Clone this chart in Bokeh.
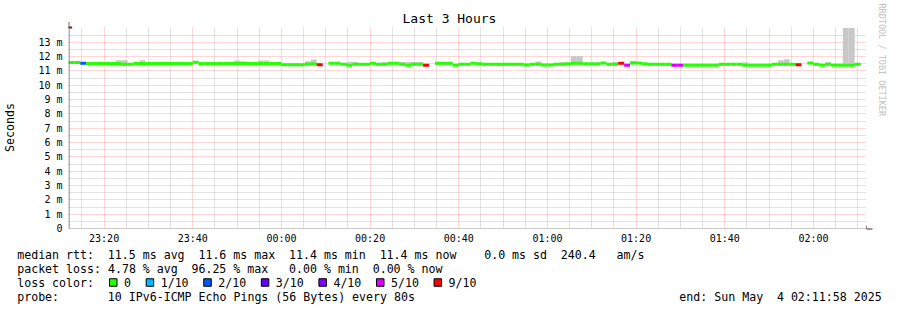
import re
from datetime import datetime, timedelta

from bokeh.plotting import figure
from bokeh.models import (Range1d, FixedTicker, CustomJSTickFormatter, Title,
                          Arrow, NormalHead)
from bokeh.embed import file_html
from bokeh.resources import INLINE
from bokeh.core.properties import value

# ---------------- data ----------------
START = datetime(2025, 5, 3, 23, 11, 58)
END = datetime(2025, 5, 4, 2, 11, 58)
STEP_S = 80  # probe interval (seconds)

# median rtt per 80 s step (ms); None = no data
median_ms = [
    11.58, 11.58, 11.54, 11.52, 11.52, 11.52, 11.52, 11.52, 11.52, 11.46,
    11.46, 11.52, 11.52, 11.52, 11.52, 11.52, 11.52, 11.52, 11.52, 11.52,
    11.52, 11.60, 11.52, 11.52, 11.52, 11.52, 11.52, 11.52, 11.52, 11.52,
    11.52, 11.52, 11.52, 11.52, 11.52, 11.52, 11.43, 11.43, 11.43, 11.43,
    11.48, 11.48, 11.43, None, 11.54, 11.54, 11.47, 11.40, 11.47, 11.47,
    11.47, 11.54, 11.47, 11.47, 11.54, 11.54, 11.47, 11.40, 11.47, 11.47,
    11.40, None, 11.54, 11.54, 11.54, 11.40, 11.47, 11.47, 11.54, 11.50,
    11.46, 11.46, 11.46, 11.46, 11.46, 11.46, 11.46, 11.42, 11.46, 11.46,
    11.42, 11.42, 11.46, 11.46, 11.50, 11.54, 11.54, 11.50, 11.50, 11.50,
    11.56, 11.47, 11.47, 11.54, 11.40, 11.55, 11.55, 11.50, 11.46, 11.46,
    11.46, 11.46, 11.40, 11.40, 11.40, 11.40, 11.40, 11.40, 11.40, 11.40,
    11.46, 11.46, 11.46, 11.46, 11.40, 11.40, 11.40, 11.40, 11.40, 11.46,
    11.46, 11.46, 11.46, 11.43, None, 11.55, 11.47, 11.40, 11.47, 11.40,
    11.40, 11.40, 11.40, 11.46, None,
]

# lost pings (out of 10) per step
loss_tenths = [
    0, 0, 2, 0, 0, 0, 0, 0, 0, 0,
    0, 0, 0, 0, 0, 0, 0, 0, 0, 0,
    0, 0, 0, 0, 0, 0, 0, 0, 0, 0,
    0, 0, 0, 0, 0, 0, 0, 0, 0, 0,
    0, 0, 9, 10, 0, 0, 0, 0, 0, 0,
    0, 0, 0, 0, 0, 0, 0, 0, 0, 0,
    9, 10, 0, 0, 0, 0, 0, 0, 0, 0,
    0, 0, 0, 0, 0, 0, 0, 0, 0, 0,
    0, 0, 0, 0, 0, 0, 0, 0, 0, 0,
    0, 0, 0, 9, 5, 0, 0, 0, 0, 0,
    0, 0, 5, 5, 0, 0, 0, 0, 0, 0,
    0, 0, 0, 0, 0, 0, 0, 0, 0, 0,
    0, 0, 0, 9, 10, 0, 0, 0, 0, 0,
    0, 0, 0, 0, 10,
]

# smoke (spread of the individual pings) top / bottom per step (ms)
smoke_hi_ms = [
    11.64, 11.64, 11.60, 11.58, 11.58, 11.58, 11.58, 11.58, 11.75, 11.75,
    11.52, 11.58, 11.75, 11.58, 11.58, 11.58, 11.58, 11.58, 11.58, 11.58,
    11.58, 11.66, 11.58, 11.58, 11.58, 11.58, 11.58, 11.58, 11.72, 11.68,
    11.58, 11.58, 11.72, 11.72, 11.58, 11.58, 11.50, 11.50, 11.50, 11.50,
    11.68, 11.80, 11.49, None, 11.60, 11.60, 11.53, 11.62, 11.62, 11.53,
    11.53, 11.60, 11.53, 11.60, 11.60, 11.60, 11.62, 11.62, 11.62, 11.62,
    11.46, None, 11.60, 11.60, 11.60, 11.46, 11.53, 11.53, 11.60, 11.58,
    11.52, 11.52, 11.52, 11.52, 11.52, 11.52, 11.52, 11.48, 11.52, 11.66,
    11.48, 11.48, 11.52, 11.60, 11.56, 12.03, 12.03, 11.56, 11.56, 11.56,
    11.62, 11.53, 11.62, 11.60, 11.46, 11.70, 11.61, 11.56, 11.52, 11.52,
    11.52, 11.52, 11.46, 11.46, 11.46, 11.46, 11.46, 11.46, 11.46, 11.46,
    11.52, 11.52, 11.52, 11.52, 11.60, 11.46, 11.46, 11.46, 11.46, 11.52,
    11.75, 11.82, 11.52, 11.49, None, 11.61, 11.53, 11.46, 11.60, 11.46,
    11.46, 14.00, 14.00, 11.52, None,
]
smoke_lo_ms = [
    11.50, 11.50, 11.45, 11.42, 11.42, 11.42, 11.42, 11.36, 11.36, 11.37,
    11.37, 11.42, 11.38, 11.42, 11.42, 11.42, 11.42, 11.42, 11.42, 11.42,
    11.42, 11.50, 11.42, 11.42, 11.42, 11.42, 11.42, 11.42, 11.42, 11.42,
    11.42, 11.42, 11.42, 11.42, 11.42, 11.42, 11.34, 11.34, 11.34, 11.34,
    11.38, 11.38, 11.34, None, 11.44, 11.44, 11.38, 11.32, 11.38, 11.38,
    11.38, 11.44, 11.38, 11.38, 11.44, 11.44, 11.38, 11.32, 11.38, 11.38,
    11.32, None, 11.40, 11.40, 11.40, 11.32, 11.38, 11.38, 11.44, 11.40,
    11.37, 11.37, 11.37, 11.37, 11.37, 11.37, 11.37, 11.33, 11.37, 11.37,
    11.33, 11.33, 11.37, 11.37, 11.40, 11.44, 11.40, 11.40, 11.40, 11.40,
    11.46, 11.38, 11.38, 11.44, 11.32, 11.46, 11.46, 11.40, 11.37, 11.37,
    11.37, 11.37, 11.32, 11.32, 11.32, 11.32, 11.32, 11.32, 11.32, 11.32,
    11.37, 11.37, 11.37, 11.37, 11.32, 11.32, 11.32, 11.32, 11.32, 11.37,
    11.37, 11.37, 11.37, 11.34, None, 11.46, 11.38, 11.32, 11.38, 11.32,
    11.32, 11.32, 11.32, 11.37, None,
]

loss_levels = [0, 1, 2, 3, 4, 5, 9]
loss_colors = ["#26ff00", "#00b8ff", "#0059ff", "#5e00ff", "#7e00ff", "#dd00ff", "#ff0000"]
loss_labels = ["0", "1/10", "2/10", "3/10", "4/10", "5/10", "9/10"]

x_major_ticks = [datetime(2025, 5, 3, 23, 20), datetime(2025, 5, 3, 23, 40),
                 datetime(2025, 5, 4, 0, 0), datetime(2025, 5, 4, 0, 20),
                 datetime(2025, 5, 4, 0, 40), datetime(2025, 5, 4, 1, 0),
                 datetime(2025, 5, 4, 1, 20), datetime(2025, 5, 4, 1, 40),
                 datetime(2025, 5, 4, 2, 0)]
x_minor_step_min = 5
y_major_ticks_ms = [0, 1, 2, 3, 4, 5, 6, 7, 8, 9, 10, 11, 12, 13]
y_minor_ticks_ms = [0.5, 1.5, 2.5, 3.5, 4.5, 5.5, 6.5, 7.5, 8.5, 9.5, 10.5, 11.5, 12.5, 13.5]

title_text = "Last 3 Hours"
y_label_text = "Seconds"
watermark_text = "RRDTOOL / TOBI OETIKER"
legend_line_1 = "median rtt:  11.5 ms avg  11.6 ms max  11.4 ms min  11.4 ms now    0.0 ms sd  240.4   am/s"
legend_line_2 = "packet loss: 4.78 % avg  96.25 % max   0.00 % min  0.00 % now"
legend_line_3 = "loss color:"
legend_line_4 = "probe:       10 IPv6-ICMP Echo Pings (56 Bytes) every 80s"
end_text = "end: Sun May  4 02:11:58 2025"

# ---------------- helpers ----------------
EPOCH = datetime(1970, 1, 1)


def ms(dt):
    return (dt - EPOCH).total_seconds() * 1000.0


MONO = "DejaVu Sans Mono"
FRAME_L, FRAME_R, FRAME_T, FRAME_B = 66, 866, 26, 228
W, H_MAIN, H_LEG = 897, 246, 64

t0 = ms(START)
t_end = ms(END)
n = len(median_ms)
lefts = [t0 + i * STEP_S * 1000.0 for i in range(n)]
rights = [l + STEP_S * 1000.0 for l in lefts]

x_major = [ms(t) for t in x_major_ticks]
x_minor = []
tt = datetime(2025, 5, 3, 23, 15)
while tt < END:
    if ms(tt) not in x_major:
        x_minor.append(ms(tt))
    tt += timedelta(minutes=x_minor_step_min)

y_top = 0.0141

p = figure(width=W, height=H_MAIN, x_axis_type="datetime",
           x_range=Range1d(t0, t_end), y_range=Range1d(0, y_top),
           output_backend="svg", toolbar_location=None,
           min_border_left=FRAME_L, min_border_right=W - FRAME_R,
           min_border_top=FRAME_T, min_border_bottom=H_MAIN - FRAME_B)
p.outline_line_color = None
p.background_fill_color = "white"
p.border_fill_color = "white"

# title
p.title.text = title_text
p.title.align = "left"
p.title.offset = 400 - FRAME_L
p.title.standoff = 1
p.title.text_font = MONO
p.title.text_font_size = "13px"
p.title.text_font_style = "normal"
p.title.text_color = "#000000"

# watermark on the right side
wm = Title(text=watermark_text, align="left", offset=-23, standoff=17,
           vertical_align="top",
           text_font=MONO, text_font_size="8.5px", text_font_style="normal",
           text_color="#c0c0c0")
p.add_layout(wm, "right")

p.xaxis.ticker = FixedTicker(ticks=x_major, minor_ticks=x_minor)
p.xaxis.formatter = CustomJSTickFormatter(code="""
    const d = new Date(tick);
    const h = String(d.getUTCHours()).padStart(2, "0");
    const m = String(d.getUTCMinutes()).padStart(2, "0");
    return h + ":" + m;
""")
p.yaxis.ticker = FixedTicker(ticks=[v / 1000 for v in y_major_ticks_ms],
                             minor_ticks=[v / 1000 for v in y_minor_ticks_ms])
p.yaxis.formatter = CustomJSTickFormatter(code="""
    const v = Math.round(tick * 1000);
    return v == 0 ? "0" : v + " m";
""")
for ax in (p.xaxis, p.yaxis):
    ax.axis_line_color = None
    ax.major_tick_line_color = None
    ax.minor_tick_line_color = None
    ax.major_tick_out = 0
    ax.major_tick_in = 0
    ax.minor_tick_out = 0
    ax.minor_tick_in = 0
    ax.major_label_text_font = MONO
    ax.major_label_text_font_size = "10px"
    ax.major_label_text_color = "#000000"
p.xaxis.major_label_standoff = 4
p.yaxis.major_label_standoff = 6
p.yaxis.axis_label = y_label_text
p.yaxis.axis_label_text_font = MONO
p.yaxis.axis_label_text_font_size = "11.6px"
p.yaxis.axis_label_text_font_style = "normal"
p.yaxis.axis_label_text_color = "#000000"
p.yaxis.axis_label_standoff = 18

for g in (p.xgrid, p.ygrid):
    g.grid_line_color = "#ff6060"
    g.grid_line_alpha = 0.5
    g.grid_line_dash = "1 1"
    g.minor_grid_line_color = "#a0a0a0"
    g.minor_grid_line_alpha = 0.6
    g.minor_grid_line_dash = "1 1"

# smoke
sl, sr, sb, st = [], [], [], []
for i in range(n):
    if smoke_hi_ms[i] is None or smoke_lo_ms[i] is None:
        continue
    sl.append(lefts[i]); sr.append(rights[i])
    sb.append(smoke_lo_ms[i] / 1000); st.append(smoke_hi_ms[i] / 1000)
p.quad(left=sl, right=sr, bottom=sb, top=st, fill_color="#c8c8c8", line_color=None)


def loss_color(v):
    c = loss_colors[0]
    for lv, col in zip(loss_levels, loss_colors):
        if v >= lv:
            c = col
    return c


mx0, mx1, my, mc = [], [], [], []
for i in range(n):
    if median_ms[i] is None:
        continue
    mx0.append(lefts[i]); mx1.append(rights[i])
    my.append(median_ms[i] / 1000); mc.append(loss_color(loss_tenths[i]))
p.segment(x0=mx0, y0=my, x1=mx1, y1=my, line_color=mc, line_width=3, line_cap="butt")

# axes with arrows
px_per_ms_x = (FRAME_R - FRAME_L) / (t_end - t0)
px_per_unit_y = (FRAME_B - FRAME_T) / y_top
ax_x = t0 + 0.5 / px_per_ms_x
ax_y = -0.5 / px_per_unit_y
p.add_layout(Arrow(end=NormalHead(size=6, fill_color="#7f1f1f", line_color="#7f1f1f"),
                   x_start=ax_x, y_start=ax_y, x_end=ax_x, y_end=(FRAME_B - 21.5) / px_per_unit_y,
                   line_color="#666666", line_width=1))
p.add_layout(Arrow(end=NormalHead(size=6, fill_color="#7f1f1f", line_color="#7f1f1f"),
                   x_start=ax_x, y_start=ax_y, x_end=t0 + (872 - FRAME_L) / px_per_ms_x, y_end=ax_y,
                   line_color="#333333", line_width=1))

# ---------------- legend figure (canvas pixel coordinates) ----------------
leg = figure(width=W, height=H_LEG, x_range=Range1d(0, W), y_range=Range1d(H_MAIN + H_LEG, H_MAIN),
             output_backend="svg", toolbar_location=None, min_border=0)
leg.axis.visible = False
leg.grid.visible = False
leg.outline_line_color = None
leg.background_fill_color = "white"
leg.border_fill_color = "white"

CH = 6.97
X0 = 16.7
line_y = [254, 268, 282, 296.5]

tx, ty, tt_ = [], [], []


def add_line(s, y, col0=0, x0=X0):
    for m in re.finditer(r"\S+(?: \S+)*", s):
        tx.append(x0 + (col0 + m.start()) * CH)
        ty.append(y)
        tt_.append(m.group(0))


add_line(legend_line_1, line_y[0])
add_line(legend_line_2, line_y[1])
add_line(legend_line_3, line_y[2])
add_line(legend_line_4, line_y[3])
add_line(end_text, line_y[3], col0=95)

bx = []
x = 109.0
for lab in loss_labels:
    bx.append(x)
    tx.append(x + 14.5); ty.append(line_y[2]); tt_.append(lab)
    x = x + 14.5 + len(lab) * CH + 15.2

leg.text(x=tx, y=ty, text=tt_, text_font=value(MONO), text_font_size=value("11.6px"),
         text_baseline="middle", text_align="left", text_color="#000000")
box = 7.5
leg.quad(left=bx, right=[b + box for b in bx], top=[line_y[2] - box / 2] * len(bx),
         bottom=[line_y[2] + box / 2] * len(bx), fill_color=loss_colors,
         line_color="#000000", line_width=1)

open("out.html", "w").write(file_html([p, leg], INLINE))
